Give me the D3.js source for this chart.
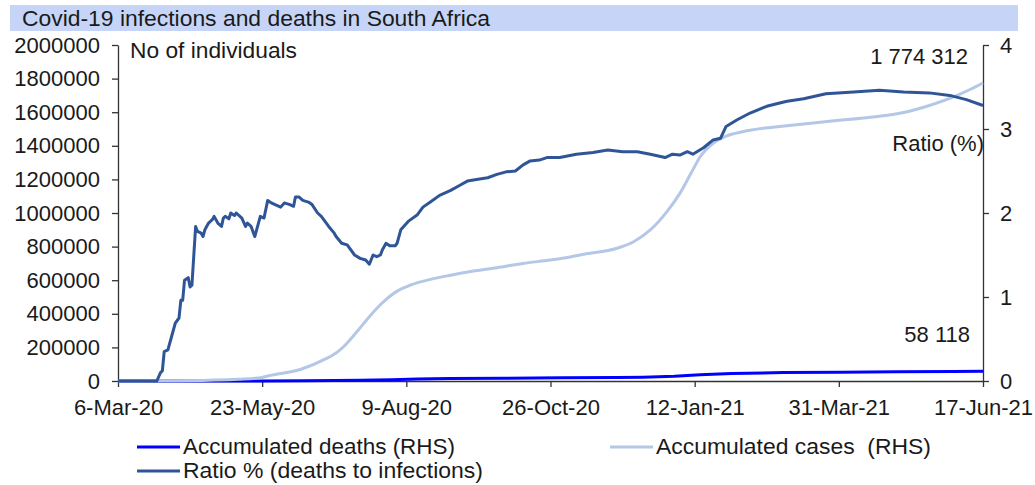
<!DOCTYPE html>
<html>
<head>
<meta charset="utf-8">
<script src="https://cdn.jsdelivr.net/npm/d3@7"></script>
<style>
  html, body { margin: 0; padding: 0; background: #fff; }
  svg { display: block; font-family: "Liberation Sans", Arial, sans-serif; }
  text { fill: #1a1a1a; white-space: pre; }
</style>
</head>
<body>
<svg id="chart" width="1035" height="485"></svg>
<script>
// ---------------- DATA ----------------
const title = "Covid-19 infections and deaths in South Africa";

const ratioDates = ["2020-03-06","2020-03-27","2020-03-29","2020-03-30","2020-03-31","2020-04-02","2020-04-04","2020-04-06","2020-04-08","2020-04-09","2020-04-10","2020-04-11","2020-04-13","2020-04-14","2020-04-15","2020-04-17","2020-04-18","2020-04-20","2020-04-21","2020-04-22","2020-04-24","2020-04-26","2020-04-27","2020-04-29","2020-05-01","2020-05-02","2020-05-03","2020-05-05","2020-05-06","2020-05-08","2020-05-09","2020-05-12","2020-05-14","2020-05-15","2020-05-17","2020-05-19","2020-05-21","2020-05-22","2020-05-24","2020-05-26","2020-05-28","2020-05-30","2020-06-02","2020-06-04","2020-06-07","2020-06-09","2020-06-10","2020-06-12","2020-06-14","2020-06-17","2020-06-19","2020-06-22","2020-06-24","2020-06-28","2020-07-01","2020-07-02","2020-07-05","2020-07-08","2020-07-12","2020-07-15","2020-07-18","2020-07-20","2020-07-22","2020-07-24","2020-07-26","2020-07-27","2020-07-29","2020-07-31","2020-08-03","2020-08-04","2020-08-06","2020-08-10","2020-08-15","2020-08-18","2020-08-22","2020-08-27","2020-09-02","2020-09-07","2020-09-11","2020-09-16","2020-09-22","2020-09-27","2020-10-02","2020-10-07","2020-10-11","2020-10-15","2020-10-20","2020-10-24","2020-10-31","2020-11-09","2020-11-18","2020-11-26","2020-12-04","2020-12-12","2020-12-19","2020-12-27","2020-12-31","2021-01-04","2021-01-08","2021-01-11","2021-01-17","2021-01-22","2021-01-26","2021-01-29","2021-02-04","2021-02-11","2021-02-20","2021-02-27","2021-03-03","2021-03-12","2021-03-24","2021-04-08","2021-04-22","2021-05-05","2021-05-19","2021-05-30","2021-06-08","2021-06-17"];
const ratioValues = [0,0,0.10,0.12,0.35,0.37,0.53,0.69,0.75,0.96,0.96,1.20,1.23,1.12,1.14,1.84,1.78,1.76,1.72,1.80,1.88,1.92,1.96,1.88,1.84,1.94,1.96,1.93,2.00,1.97,2.00,1.94,1.84,1.88,1.84,1.72,1.88,1.96,1.94,2.15,2.12,2.10,2.07,2.12,2.10,2.08,2.19,2.19,2.15,2.13,2.10,2.00,1.96,1.84,1.76,1.72,1.64,1.62,1.50,1.46,1.44,1.39,1.50,1.48,1.50,1.56,1.64,1.61,1.61,1.64,1.80,1.90,1.98,2.07,2.13,2.21,2.27,2.33,2.38,2.40,2.42,2.46,2.49,2.50,2.57,2.62,2.63,2.66,2.66,2.70,2.72,2.75,2.73,2.73,2.70,2.66,2.70,2.69,2.73,2.70,2.78,2.87,2.89,3.03,3.11,3.19,3.27,3.31,3.33,3.36,3.42,3.44,3.46,3.44,3.43,3.40,3.35,3.28];

const casesDates = ["2020-03-06","2020-04-01","2020-04-24","2020-05-10","2020-05-23","2020-05-26","2020-06-13","2020-06-26","2020-07-03","2020-07-06","2020-07-13","2020-07-20","2020-07-28","2020-08-04","2020-08-11","2020-08-22","2020-09-02","2020-09-12","2020-09-27","2020-10-11","2020-10-26","2020-10-31","2020-11-13","2020-12-01","2020-12-10","2020-12-19","2020-12-28","2021-01-04","2021-01-10","2021-01-15","2021-01-22","2021-01-29","2021-02-07","2021-02-18","2021-02-27","2021-03-12","2021-03-30","2021-04-17","2021-05-05","2021-05-19","2021-06-03","2021-06-10","2021-06-17"];
const casesValues = [0,1400,4500,10000,21000,30000,70000,130000,175000,204000,290000,383000,475000,535000,570000,605000,630000,650000,674000,700000,720000,728000,755000,790000,829000,899000,1008000,1117000,1236000,1335000,1415000,1458000,1484000,1504000,1515000,1530000,1550000,1570000,1598000,1640000,1700000,1735000,1774312];

const deathsDates = ["2020-03-06","2020-04-01","2020-05-01","2020-05-23","2020-06-15","2020-07-01","2020-07-15","2020-08-01","2020-08-15","2020-09-01","2020-10-01","2020-11-01","2020-12-01","2020-12-15","2021-01-01","2021-01-15","2021-02-01","2021-03-01","2021-04-01","2021-05-01","2021-06-01","2021-06-17"];
const deathsValues = [0,5,100,400,1600,2800,4300,8000,11700,14400,16700,19300,21500,23000,28500,37000,44000,50000,52600,54400,56500,58118];

const xTickDates = ["2020-03-06","2020-05-23","2020-08-09","2020-10-26","2021-01-12","2021-03-31","2021-06-17"];
const xTickLabels = ["6-Mar-20","23-May-20","9-Aug-20","26-Oct-20","12-Jan-21","31-Mar-21","17-Jun-21"];
const leftTicks = [0,200000,400000,600000,800000,1000000,1200000,1400000,1600000,1800000,2000000];
const rightTicks = [0,1,2,3,4];

const seriesNames = ["Accumulated deaths (RHS)", "Accumulated cases  (RHS)", "Ratio % (deaths to infections)"];
const seriesColors = ["#0000ff", "#b4c7e7", "#2f5597"];

const annLeft = "No of individuals";
const annCases = "1 774 312";
const annRatio = "Ratio (%)";
const annDeaths = "58 118";

// ---------------- CHART ----------------
const parse = d3.timeParse("%Y-%m-%d");
const svg = d3.select("#chart");
const FS = 22;
const plot = { left: 118, right: 983, top: 45, bottom: 381 };

// title bar
svg.append("rect").attr("x", 10).attr("y", 5).attr("width", 1008).attr("height", 26).attr("fill", "#c6d5f7");
svg.append("text").attr("x", 22).attr("y", 26).attr("font-size", FS)
  .attr("textLength", 468).attr("lengthAdjust", "spacingAndGlyphs").text(title);

const x = d3.scaleTime().domain([parse("2020-03-06"), parse("2021-06-17")]).range([plot.left, plot.right]);
const yL = d3.scaleLinear().domain([0, 2000000]).range([plot.bottom, plot.top]);
const yR = d3.scaleLinear().domain([0, 4]).range([plot.bottom, plot.top]);

const axisColor = "#333";
function styleAxis(g) {
  g.selectAll("path.domain").attr("stroke", axisColor).attr("stroke-width", 1.3);
  g.selectAll(".tick line").attr("stroke", axisColor).attr("stroke-width", 1.3);
  g.selectAll(".tick text").attr("font-size", FS).attr("font-family", "Liberation Sans, Arial, sans-serif").attr("fill", "#1a1a1a");
}

const gL = svg.append("g").attr("transform", `translate(${plot.left},0)`)
  .call(d3.axisLeft(yL).tickValues(leftTicks).tickFormat(d3.format("d")).tickSize(6).tickSizeOuter(0).tickPadding(12));
styleAxis(gL);

const gR = svg.append("g").attr("transform", `translate(${plot.right},0)`)
  .call(d3.axisRight(yR).tickValues(rightTicks).tickFormat(d3.format("d")).tickSize(6).tickSizeOuter(0).tickPadding(11));
styleAxis(gR);

const gX = svg.append("g").attr("transform", `translate(0,${plot.bottom})`)
  .call(d3.axisBottom(x).tickValues(xTickDates.map(parse)).tickFormat((d, i) => xTickLabels[i]).tickSize(6).tickSizeOuter(0).tickPadding(12));
styleAxis(gX);

// lines
const lineL = d3.line().x(d => x(d[0])).y(d => yL(d[1]));
const lineLsmooth = d3.line().curve(d3.curveMonotoneX).x(d => x(d[0])).y(d => yL(d[1]));
const lineR = d3.line().x(d => x(d[0])).y(d => yR(d[1]));

const deaths = deathsDates.map((d, i) => [parse(d), deathsValues[i]]);
const cases = casesDates.map((d, i) => [parse(d), casesValues[i]]);
const ratio = ratioDates.map((d, i) => [parse(d), ratioValues[i]]);

svg.append("path").datum(deaths).attr("d", lineL).attr("fill", "none").attr("stroke", seriesColors[0]).attr("stroke-width", 3);
svg.append("path").datum(cases).attr("d", lineLsmooth).attr("fill", "none").attr("stroke", seriesColors[1]).attr("stroke-width", 3).attr("stroke-linejoin", "round");
svg.append("path").datum(ratio).attr("d", lineR).attr("fill", "none").attr("stroke", seriesColors[2]).attr("stroke-width", 3).attr("stroke-linejoin", "round");

// annotations
svg.append("text").attr("x", 130).attr("y", 58).attr("font-size", FS)
  .attr("textLength", 167).attr("lengthAdjust", "spacingAndGlyphs").text(annLeft);
svg.append("text").attr("x", 968).attr("y", 64).attr("text-anchor", "end").attr("font-size", FS).text(annCases);
svg.append("text").attr("x", 984).attr("y", 151).attr("text-anchor", "end").attr("font-size", FS).text(annRatio);
svg.append("text").attr("x", 970).attr("y", 342).attr("text-anchor", "end").attr("font-size", FS).text(annDeaths);

// legend
const legendPos = [[137, 447], [610, 447], [137, 471]];
const legendTextLen = [272, 275, 300];
seriesNames.forEach((name, i) => {
  const [lx, ly] = legendPos[i];
  svg.append("line").attr("x1", lx).attr("x2", lx + 43).attr("y1", ly).attr("y2", ly)
    .attr("stroke", seriesColors[i]).attr("stroke-width", 3);
  svg.append("text").attr("x", lx + 46).attr("y", ly + 7).attr("font-size", FS)
    .attr("textLength", legendTextLen[i]).attr("lengthAdjust", "spacingAndGlyphs").text(name);
});
</script>
</body>
</html>
